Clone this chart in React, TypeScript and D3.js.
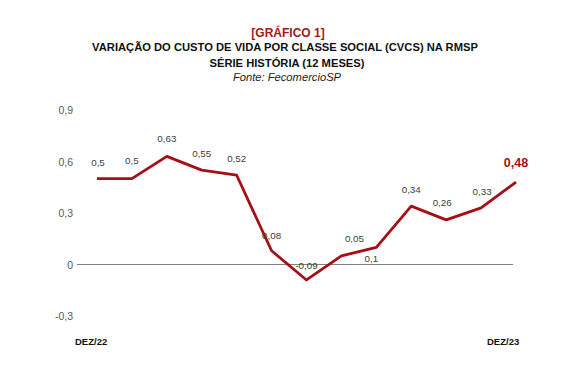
import * as d3 from "d3";

const months = ["DEZ/22", "JAN/23", "FEV/23", "MAR/23", "ABR/23", "MAI/23", "JUN/23", "JUL/23", "AGO/23", "SET/23", "OUT/23", "NOV/23", "DEZ/23"];
const values = [0.5, 0.5, 0.63, 0.55, 0.52, 0.08, -0.09, 0.05, 0.1, 0.34, 0.26, 0.33, 0.48];
const yTicks = [-0.3, 0, 0.3, 0.6, 0.9];
const shownMonths = ["DEZ/22", "DEZ/23"];

// label placement tweaks (dx, dy) relative to the point
const labelOffsets: [number, number][] = [
  [1, -13], [0, -15], [0, -14], [0, -13], [0, -13], [0, -12], [0, -11],
  [13, -14], [-5, 15], [0, -13], [-4, -14], [1, -13], [0, -15],
];

const W = 579;
const H = 371;
const fmt = (v: number) => String(v).replace(".", ",");

export default function App() {
  const x = d3.scalePoint<string>().domain(months).range([97, 516]);
  const y = d3.scaleLinear().domain([-0.3, 0.9]).range([316, 110]);
  const line = d3
    .line<number>()
    .x((_, i) => x(months[i])!)
    .y((d) => y(d));
  const font = "'Liberation Sans', Arial, sans-serif";
  const last = values.length - 1;

  return (
    <svg width={W} height={H} style={{ position: "absolute", left: 0, top: 0, background: "#fff" }} fontFamily={font}>
      <text x={288} y={37} textAnchor="middle" fontSize={12} fontWeight="bold" fill="#a01b1b">[GRÁFICO 1]</text>
      <text x={285} y={51} textAnchor="middle" fontSize={11.2} fontWeight="bold" fill="#111">VARIAÇÃO DO CUSTO DE VIDA POR CLASSE SOCIAL (CVCS) NA RMSP</text>
      <text x={287} y={67} textAnchor="middle" fontSize={11.2} fontWeight="bold" fill="#111">SÉRIE HISTÓRIA (12 MESES)</text>
      <text x={287} y={81} textAnchor="middle" fontSize={11.2} fontStyle="italic" fill="#222">Fonte: FecomercioSP</text>

      {yTicks.map((t) => (
        <text key={t} x={73} y={y(t) + 4} textAnchor="end" fontSize={10.5} fill="#595959">{fmt(t)}</text>
      ))}

      <line x1={77} x2={513} y1={y(0)} y2={y(0)} stroke="#808080" strokeWidth={1.2} />

      {shownMonths.map((m) => (
        <text key={m} x={m === "DEZ/22" ? 75 : 487} y={345} fontSize={9.5} fontWeight="bold" fill="#111">{m}</text>
      ))}

      <path d={line(values)!} fill="none" stroke="#a50f15" strokeWidth={2.8} strokeLinejoin="round" />

      {values.map((v, i) => {
        const px = x(months[i])!;
        const py = y(v);
        const [dx, dy] = labelOffsets[i];
        const isLast = i === last;
        return (
          <text
            key={i}
            x={px + dx}
            y={py + dy}
            textAnchor="middle"
            fontSize={isLast ? 12.5 : 9.8}
            fontWeight={isLast ? "bold" : "normal"}
            fill={isLast ? "#a50f15" : "#404040"}
          >
            {fmt(v)}
          </text>
        );
      })}
    </svg>
  );
}
